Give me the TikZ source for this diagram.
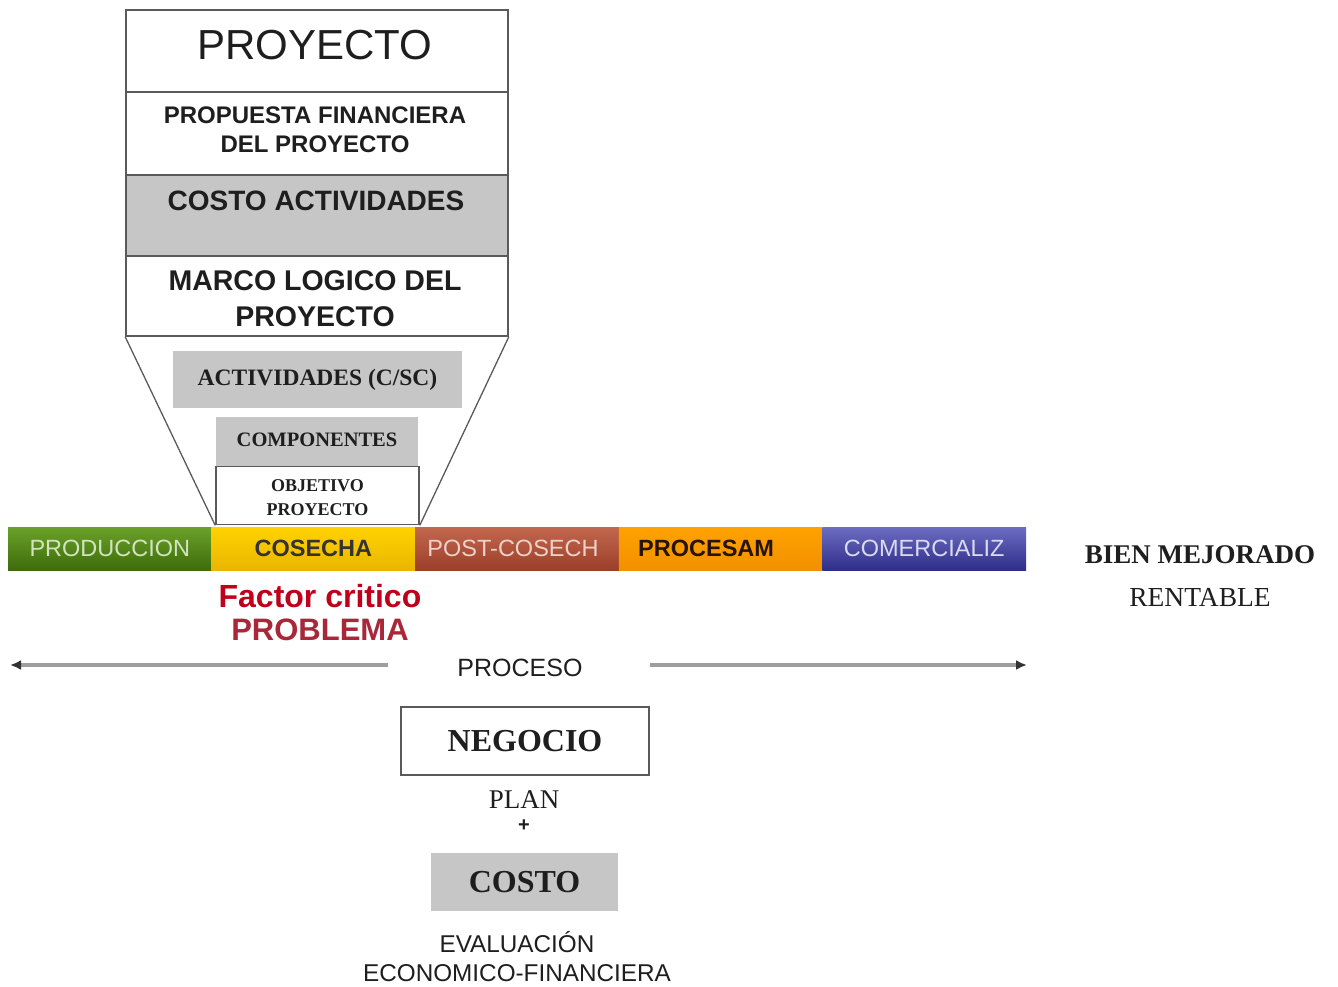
\documentclass[tikz,border=0pt]{standalone}
\usepackage{fontspec}
\setmainfont{Liberation Serif}
\setsansfont{Liberation Sans}
\usetikzlibrary{arrows.meta}
\definecolor{boxgray}{HTML}{C6C6C6}
\definecolor{edgegray}{HTML}{5A5A5A}
\definecolor{txt}{HTML}{1E1E1E}
\definecolor{gtop}{HTML}{6AA12A}\definecolor{gbot}{HTML}{3E6C0A}
\definecolor{ytop}{HTML}{FFD200}\definecolor{ybot}{HTML}{EAB600}
\definecolor{btop}{HTML}{C2684E}\definecolor{bbot}{HTML}{9C3E2A}
\definecolor{otop}{HTML}{FFA200}\definecolor{obot}{HTML}{F29000}
\definecolor{vtop}{HTML}{6C6CC2}\definecolor{vbot}{HTML}{2E2E8A}
\definecolor{critred}{HTML}{C0001A}
\definecolor{probred}{HTML}{A8283A}
\newcommand{\fsz}[1]{\fontsize{#1}{#1}\selectfont}
\begin{document}
\begin{tikzpicture}[x=1pt,y=-1pt,
  row/.style={draw=edgegray, line width=1.6pt, minimum width=382pt, inner sep=0pt, fill=white},
  graybox/.style={fill=boxgray, inner sep=0pt, text=txt},
  whitebox/.style={draw=edgegray, line width=1.6pt, fill=white, inner sep=0pt, text=txt},
  seg/.style={minimum width=203.6pt, minimum height=43pt, inner sep=0pt, font=\sffamily\fsz{23.5}},
  funnel/.style={draw=edgegray, line width=1.3pt},
  proc/.style={draw=black!38, line width=3.5pt, -{Latex[length=11pt,width=10pt,black!80]}},
  stxt/.style={text=txt, align=center}
]
\useasboundingbox (0,0) rectangle (1338,986);

% top stack
\node[row, minimum height=82pt] (proy) at (317,51) {};
\node[row, minimum height=83pt] (prop) at (317,133.5) {};
\node[row, minimum height=81pt, fill=boxgray] (cact) at (317,215.5) {};
\node[row, minimum height=80pt] (marco) at (317,296) {};
\node[stxt, font=\sffamily\fsz{42}] (tproy) at (315,45) {PROYECTO};
\node[stxt, font=\sffamily\bfseries\fsz{24}] (tprop) at (315,129.5)
  {PROPUESTA FINANCIERA\\[5pt]DEL PROYECTO};
\node[stxt, font=\sffamily\bfseries\fsz{28}] (tcact) at (316,201) {COSTO ACTIVIDADES};
\node[stxt, font=\sffamily\bfseries\fsz{28.5}] (tmarco) at (315,299)
  {MARCO LOGICO DEL\\[7.5pt]PROYECTO};

% inner boxes
\node[graybox, minimum width=289pt, minimum height=57pt, font=\bfseries\fsz{23.5}] (act) at (317.5,379.5)
  {\raisebox{3pt}{ACTIVIDADES (C/SC)}};
\node[graybox, minimum width=202pt, minimum height=49pt, font=\bfseries\fsz{20.5}] (comp) at (317,441.5)
  {\raisebox{3pt}{COMPONENTES}};
\node[whitebox, minimum width=203pt, minimum height=58pt, font=\bfseries\fsz{18}, align=center] (obj) at (317.5,495.5)
  {\rule{0pt}{17pt}OBJETIVO\\[6pt]PROYECTO};

% funnel
\draw[funnel] (marco.south west) -- (obj.south west);
\draw[funnel] (marco.south east) -- (obj.south east);

% chain bar
\node[seg, top color=gtop, bottom color=gbot, text=gtop!30!white] (prod) at (109.8,548.5) {PRODUCCION};
\node[seg, top color=ytop, bottom color=ybot, text=black!80, font=\sffamily\bfseries\fsz{23.5}] (cos) at (313.4,548.5) {COSECHA};
\node[seg, top color=btop, bottom color=bbot, text=btop!30!white] (post) at (517,548.5) {\hspace*{-8pt}POST-COSECH};
\node[seg, top color=otop, bottom color=obot, text=black!85!orange, font=\sffamily\bfseries\fsz{23.5}] (procm) at (720.6,548.5) {\hspace*{-29pt}PROCESAM};
\node[seg, top color=vtop, bottom color=vbot, text=vtop!25!white] (com) at (924.2,548.5) {COMERCIALIZ};

% right label
\node[stxt, font=\bfseries\fsz{27}] (bien) at (1200,555) {BIEN MEJORADO};
\node[stxt, font=\fsz{27.5}] (rent) at (1200,597) {RENTABLE};

% factor critico
\node[font=\sffamily\bfseries\fsz{32}, text=critred] (fc) at (320,596) {Factor critico};
\node[font=\sffamily\bfseries\fsz{31}, text=probred] (prob) at (320,630) {PROBLEMA};

% proceso
\node[stxt, font=\sffamily\fsz{25}] (proceso) at (520,668) {PROCESO};
\coordinate (la) at (388,665);
\coordinate (lb) at (10,665);
\coordinate (ra) at (650,665);
\coordinate (rb) at (1027,665);
\draw[proc] (la) -- (lb);
\draw[proc] (ra) -- (rb);

% bottom
\node[whitebox, minimum width=248pt, minimum height=68pt, font=\bfseries\fsz{32}] (neg) at (525,741) {NEGOCIO};
\node[stxt, font=\fsz{27}] (plan) at (524,800) {PLAN};
\node[stxt, font=\sffamily\bfseries\fsz{20}] (plus) at (524,826) {+};
\node[graybox, minimum width=187pt, minimum height=58pt, font=\bfseries\fsz{32}] (costo) at (524.5,882) {COSTO};
\node[stxt, font=\sffamily\fsz{24.3}] (eval) at (517,956.5) {EVALUACIÓN\\[5pt]ECONOMICO-FINANCIERA};
\end{tikzpicture}
\end{document}
